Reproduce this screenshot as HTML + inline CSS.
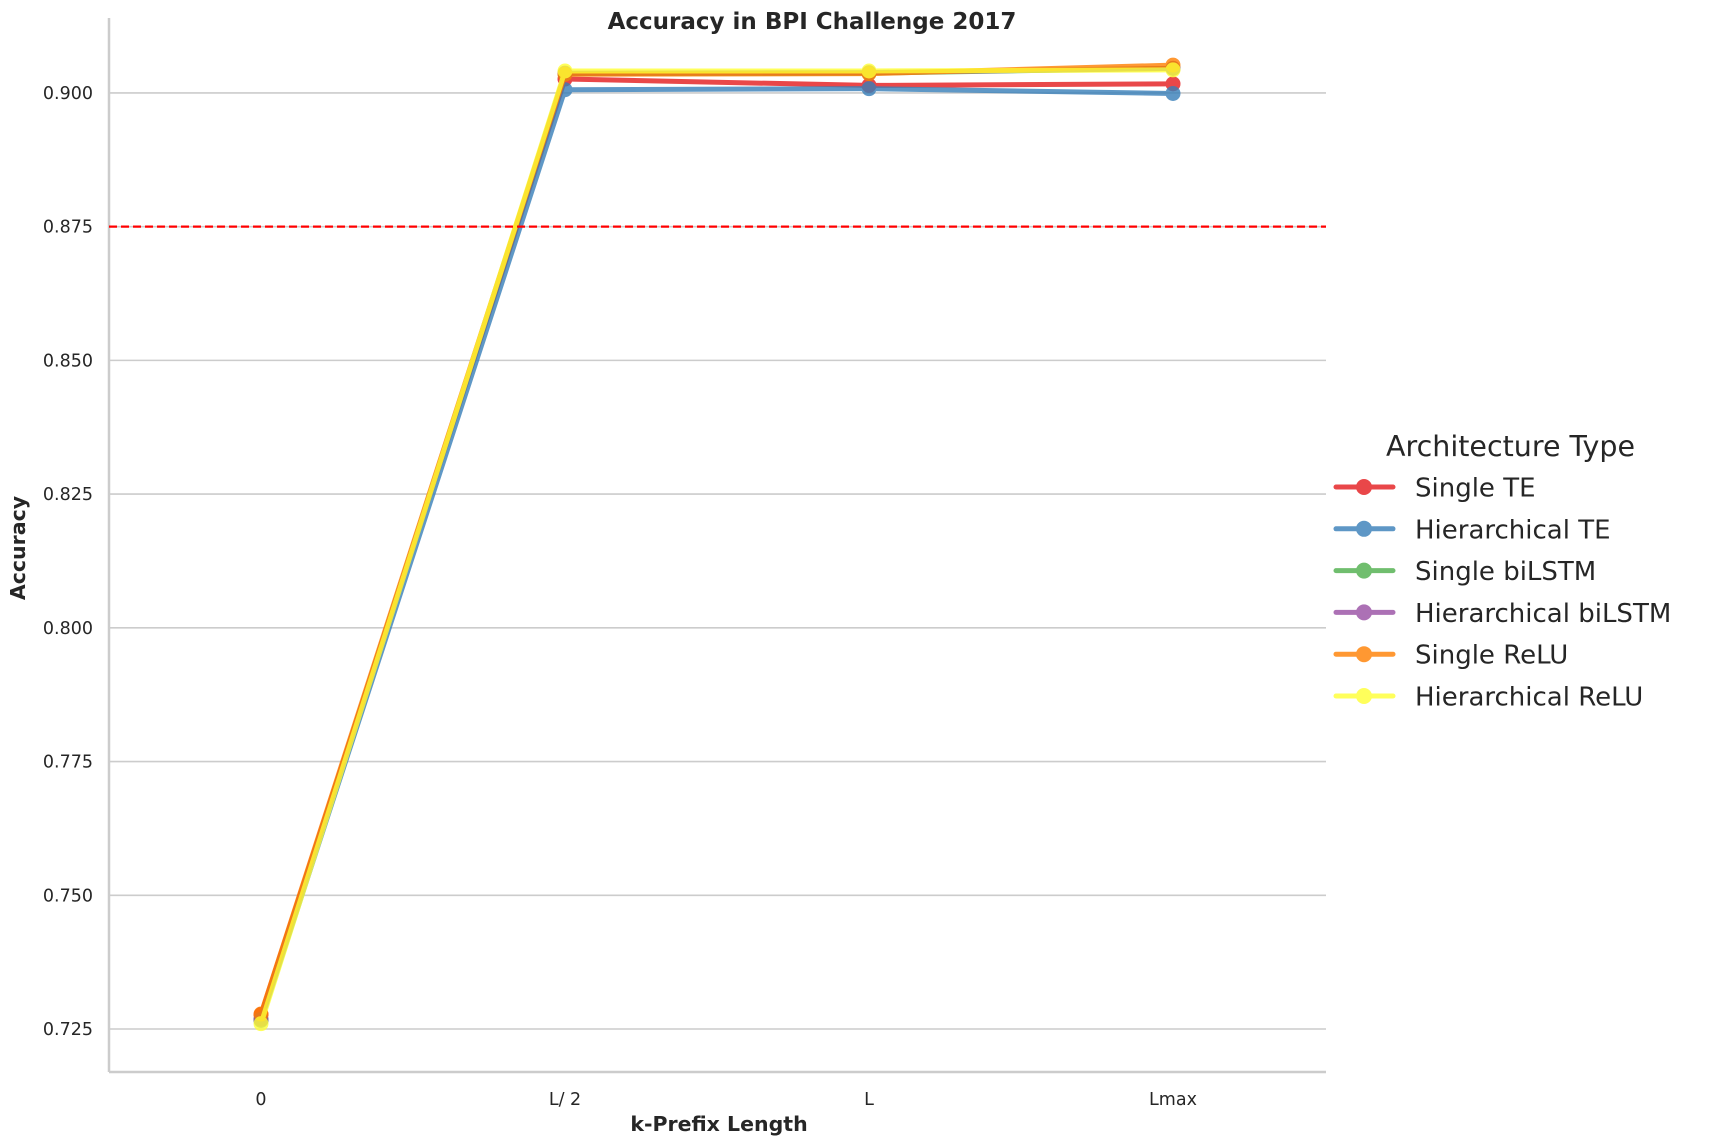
<!DOCTYPE html>
<html><head><meta charset="utf-8"><style>
body{margin:0;background:#fff;}
svg{display:block;font-family:"DejaVu Sans","Liberation Sans",sans-serif;}
</style></head><body>
<svg id="chart" width="1710" height="1144" viewBox="0 0 1710 1144">
<text x="812" y="29" text-anchor="middle" font-size="23" font-weight="bold" fill="#262626">Accuracy in BPI Challenge 2017</text>
<g id="grid"></g>
<g id="axes"></g>
<g id="series"></g>
<g id="legend"></g>
</svg>
<script>
const categories = ["0", "L/ 2", "L", "Lmax"];
const yTicks = [0.725, 0.75, 0.775, 0.8, 0.825, 0.85, 0.875, 0.9];
const baseline = 0.875;
const seriesNames = ["Single TE", "Hierarchical TE", "Single biLSTM", "Hierarchical biLSTM", "Single ReLU", "Hierarchical ReLU"];
const singleTE = [0.7277, 0.9026, 0.9014, 0.9017];
const hierTE = [0.7266, 0.9006, 0.9008, 0.8999];
const singleBiLSTM = [0.7268, 0.9036, 0.9037, 0.9046];
const hierBiLSTM = [0.7268, 0.9037, 0.9038, 0.9046];
const singleReLU = [0.7278, 0.9035, 0.9036, 0.9052];
const hierReLU = [0.7260, 0.9041, 0.9041, 0.9043];
const seriesValues = [singleTE, hierTE, singleBiLSTM, hierBiLSTM, singleReLU, hierReLU];
const colors = ["#e41a1c", "#377eb8", "#4daf4a", "#984ea3", "#ff7f00", "#ffff33"];

const NS = "http://www.w3.org/2000/svg";
const X0 = 109, X1 = 1326, YB = 1072, YT = 18;
function xScale(i){ return 261 + i * 304; }
function yScale(v){ return 1029 - (v - 0.725) * 5349; }
function mk(tag, attrs, parent){ const e = document.createElementNS(NS, tag); for (const k in attrs) e.setAttribute(k, attrs[k]); parent.appendChild(e); return e; }

const grid = document.getElementById('grid');
const axes = document.getElementById('axes');
yTicks.forEach(t => {
  const y = yScale(t);
  const gl = mk('line', {x1: X0, x2: X1, y1: y, y2: y, stroke: '#cccccc', 'stroke-width': 1.6}, grid);
  
  
  const tl = mk('text', {x: 93, y: y + 6, 'text-anchor': 'end', 'font-size': 17.5, fill: '#262626'}, axes);
  tl.textContent = t.toFixed(3);
  
  
});
const sl = mk('line', {x1: X0, x2: X0, y1: YT, y2: YB, stroke: '#cccccc', 'stroke-width': 2.5}, axes);


const sb = mk('line', {x1: X0, x2: X1, y1: YB, y2: YB, stroke: '#cccccc', 'stroke-width': 2.5}, axes);


categories.forEach((c, i) => {
  const tl = mk('text', {x: xScale(i), y: 1105, 'text-anchor': 'middle', 'font-size': 17.5, fill: '#262626'}, axes);
  tl.textContent = c;
  
  
});
const xl = mk('text', {x: 719, y: 1131, 'text-anchor': 'middle', 'font-size': 20.5, 'font-weight': 'bold', fill: '#262626'}, axes);
xl.textContent = 'k-Prefix Length';


const yl = mk('text', {x: 0, y: 0, transform: 'translate(25,548) rotate(-90)', 'text-anchor': 'middle', 'font-size': 20.5, 'font-weight': 'bold', fill: '#262626'}, axes);
yl.textContent = 'Accuracy';



const ser = document.getElementById('series');
seriesValues.forEach((vals, s) => {
  const g = mk('g', {opacity: 0.8}, ser);
  
  
  const pts = vals.map((v, i) => xScale(i) + ',' + yScale(v)).join(' ');
  const pl = mk('polyline', {points: pts, fill: 'none', stroke: colors[s], 'stroke-width': 5, 'stroke-linejoin': 'round'}, g);
  
  
  vals.forEach((v, i) => {
    const c = mk('circle', {cx: xScale(i), cy: yScale(v), r: 7.5, fill: colors[s]}, g);
    
    
  });
});
const bl = mk('line', {x1: X0, x2: X1, y1: yScale(baseline), y2: yScale(baseline), stroke: '#ff0000', 'stroke-width': 2.2, 'stroke-dasharray': '8,4'}, ser);



const lg = document.getElementById('legend');
const lt = mk('text', {x: 1386, y: 456, 'font-size': 28.5, fill: '#262626'}, lg);
lt.textContent = 'Architecture Type';


seriesNames.forEach((n, s) => {
  const y = 487 + s * 41.8;
  const g = mk('g', {}, lg);
  
  
  const gg = mk('g', {opacity: 0.8}, g);
  mk('line', {x1: 1336, x2: 1393, y1: y, y2: y, stroke: colors[s], 'stroke-width': 5, 'stroke-linecap': 'round'}, gg);
  mk('circle', {cx: 1364, cy: y, r: 8, fill: colors[s]}, gg);
  const t = mk('text', {x: 1415, y: y + 9.5, 'font-size': 26, fill: '#262626'}, g);
  t.textContent = n;
});
</script>
</body></html>
